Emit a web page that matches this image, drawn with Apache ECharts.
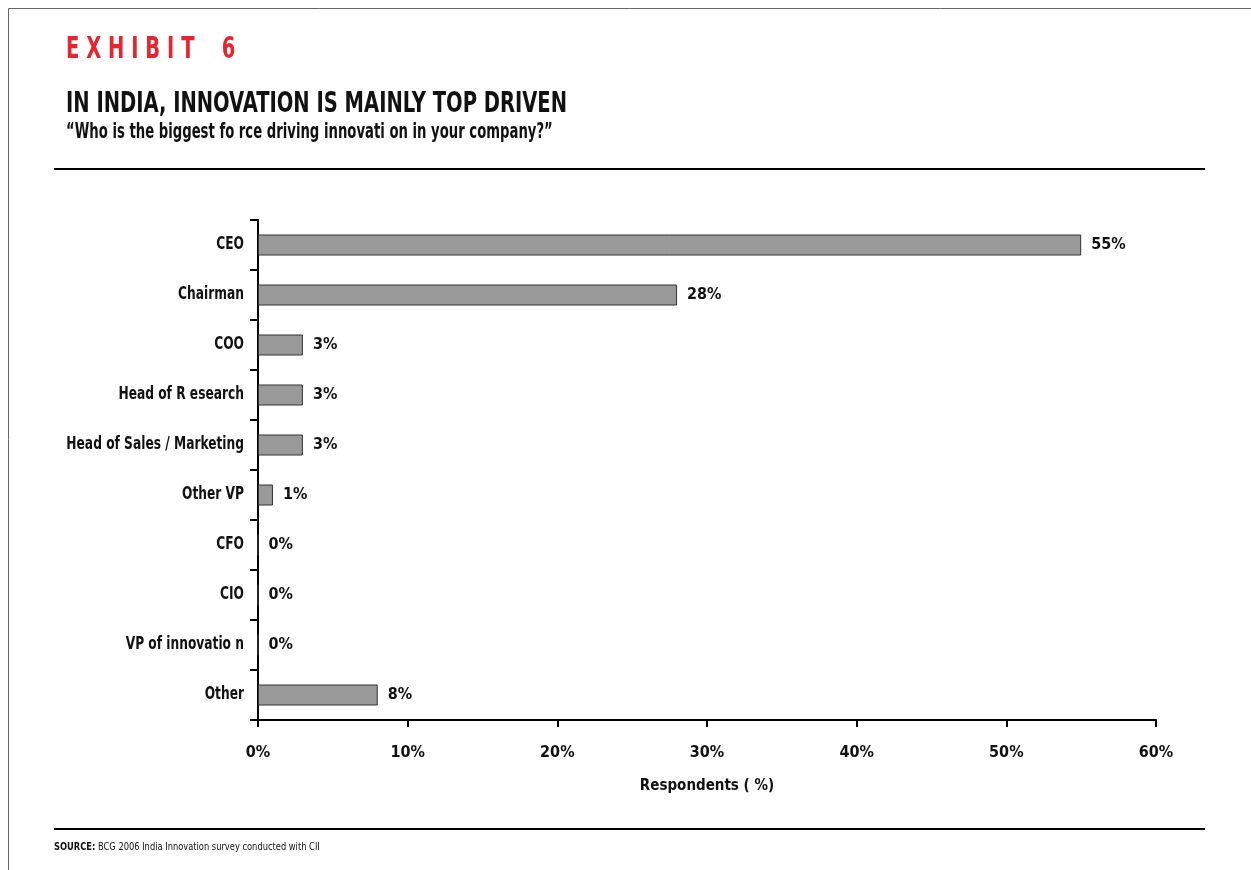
<!DOCTYPE html>
<html>
<head>
<meta charset="utf-8">
<script src="https://cdn.jsdelivr.net/npm/echarts@6/dist/echarts.min.js"></script>
<style>
  html, body { margin: 0; padding: 0; background: #fff; }
  #chart { width: 1251px; height: 870px; }
</style>
</head>
<body>
<div id="chart"></div>
<script>
// Survey answers: who drives innovation in the company
const categories = ['CEO', 'Chairman', 'COO', 'Head of R esearch', 'Head of Sales / Marketing',
  'Other VP', 'CFO', 'CIO', 'VP of innovatio n', 'Other'];
const respondents = [55, 28, 3, 3, 3, 1, 0, 0, 0, 8];
const xTicks = [0, 10, 20, 30, 40, 50, 60];

const FONT = "'Liberation Sans Narrow', 'DejaVu Sans Condensed', 'Arial Narrow', sans-serif";
const HEADING = 'E X H I B I T    6';

const chart = echarts.init(document.getElementById('chart'));

const graphics = [
  // page frame (top and left edges)
  { type: 'line', shape: { x1: 8.5, y1: 8.5, x2: 1251, y2: 8.5 }, style: { stroke: '#666', lineWidth: 1 } },
  { type: 'line', shape: { x1: 8.5, y1: 8.5, x2: 8.5, y2: 870 }, style: { stroke: '#666', lineWidth: 1 } },
  // letter-spaced red heading
  { type: 'text', x: 66, y: 50, scaleX: 0.725,
    style: { text: HEADING, font: 'bold 30px ' + FONT, fill: '#e8252f', verticalAlign: 'middle' } },
  { type: 'text', x: 66, y: 105, scaleX: 0.775,
    style: { text: 'IN INDIA, INNOVATION IS MAINLY TOP DRIVEN', font: 'bold 28px ' + FONT, fill: '#111', verticalAlign: 'middle' } },
  { type: 'text', x: 66, y: 133, scaleX: 0.70,
    style: { text: '\u201CWho is the biggest fo rce driving innovati on in your company?\u201D', font: 'bold 21px ' + FONT, fill: '#111', verticalAlign: 'middle' } },
  { type: 'line', shape: { x1: 54, y1: 169, x2: 1205, y2: 169 }, style: { stroke: '#000', lineWidth: 2 } },
  { type: 'line', shape: { x1: 54, y1: 829, x2: 1205, y2: 829 }, style: { stroke: '#000', lineWidth: 2 } },
  { type: 'text', x: 54, y: 847, scaleX: 0.84, style: {
      text: '{b|SOURCE:} BCG 2006 India Innovation survey conducted with CII',
      font: '11px ' + FONT, fill: '#111', verticalAlign: 'middle',
      rich: { b: { font: 'bold 11px ' + FONT, fill: '#111' } } } }
];

const labelFont = 'bold 17px ' + FONT;

chart.setOption({
  animation: false,
  backgroundColor: '#fff',
  graphic: graphics,
  grid: { left: 258, right: 95, top: 220, bottom: 150, containLabel: false },
  xAxis: {
    type: 'value', min: 0, max: 60, interval: 10,
    axisLine: { show: true, lineStyle: { color: '#000', width: 2 } },
    axisTick: { show: true, length: 7, lineStyle: { color: '#000', width: 2 } },
    splitLine: { show: false },
    axisLabel: { formatter: v => xTicks.includes(v) ? v + '%' : '', margin: 25,
      fontFamily: FONT, fontWeight: 'bold', fontSize: 16, color: '#111' },
    name: 'Respondents ( %)', nameLocation: 'middle', nameGap: 59,
    nameTextStyle: { fontFamily: FONT, fontWeight: 'bold', fontSize: 15, color: '#111' }
  },
  yAxis: {
    type: 'category', data: categories, inverse: true,
    axisLine: { show: true, lineStyle: { color: '#000', width: 2 } },
    axisTick: { show: true, length: 8, lineStyle: { color: '#000', width: 2 } },
    axisLabel: { show: false }
  },
  series: [{
    type: 'bar', data: respondents, barWidth: '42%',
    itemStyle: { color: '#999999', borderColor: '#333', borderWidth: 1 },
    label: { show: true, position: 'right', distance: 10, formatter: p => p.value + '%',
      fontFamily: FONT, fontWeight: 'bold', fontSize: 16, color: '#111' }
  }, {
    // condensed category labels placed on the category axis
    type: 'custom', silent: true, clip: false,
    data: categories.map(c => [0, c]),
    encode: { x: 0, y: 1 },
    renderItem: (params, api) => {
      const pt = api.coord([0, api.value(1)]);
      return {
        type: 'text', x: pt[0] - 14, y: pt[1], scaleX: 0.8,
        style: { text: categories[params.dataIndex], font: labelFont, fill: '#111',
          align: 'right', verticalAlign: 'middle' }
      };
    }
  }]
});
</script>
</body>
</html>
